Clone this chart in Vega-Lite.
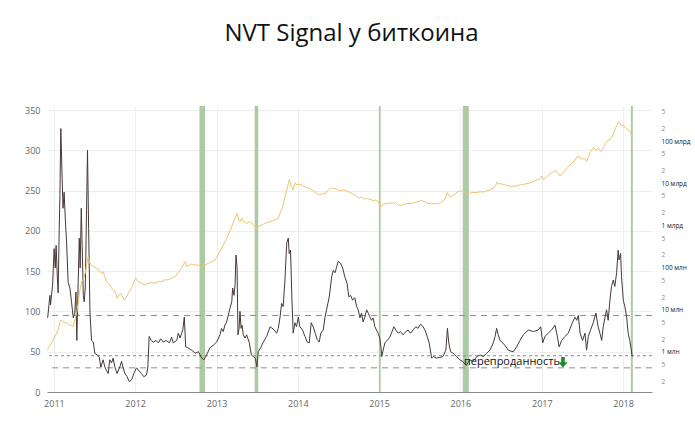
{
  "$schema": "https://vega.github.io/schema/vega-lite/v6.json",
  "width": 605,
  "height": 286,
  "autosize": {"type": "none"},
  "padding": {"left": 47, "top": 106, "right": 43, "bottom": 38},
  "background": "white",
  "title": {"text": "NVT Signal у биткоина", "fontSize": 24, "font": "Open Sans", "fontWeight": "normal", "color": "#111111", "anchor": "middle", "offset": 41, "baseline": "alphabetic", "dx": 2},
  "config": {"view": {"stroke": null}, "font": "Open Sans"},
  "datasets": {
    "bands": [
      {"start": "2012-10-16", "end": "2012-11-10"},
      {"start": "2013-06-21", "end": "2013-07-07"},
      {"start": "2014-12-31", "end": "2015-01-08"},
      {"start": "2016-01-12", "end": "2016-02-08"},
      {"start": "2018-02-05", "end": "2018-02-14"}
    ],
    "grayLevels": [{"level": 95}, {"level": 30}],
    "greenLevels": [{"level": 45}],
    "notes": [{"date": "2016-01-17", "nvt": 37, "label": "перепроданность"}],
    "arrows": [{"date": "2017-04-06", "nvt": 37}],
    "nvt": [
      {"date": "2010-12-04", "nvt": 92}, {"date": "2010-12-14", "nvt": 120}, {"date": "2010-12-17", "nvt": 108}, {"date": "2010-12-26", "nvt": 133},
      {"date": "2011-01-02", "nvt": 178}, {"date": "2011-01-07", "nvt": 154}, {"date": "2011-01-11", "nvt": 182}, {"date": "2011-01-16", "nvt": 145},
      {"date": "2011-01-20", "nvt": 123}, {"date": "2011-01-25", "nvt": 203}, {"date": "2011-01-28", "nvt": 244}, {"date": "2011-02-01", "nvt": 327},
      {"date": "2011-02-07", "nvt": 265}, {"date": "2011-02-11", "nvt": 228}, {"date": "2011-02-16", "nvt": 248}, {"date": "2011-02-22", "nvt": 210},
      {"date": "2011-02-27", "nvt": 186}, {"date": "2011-03-06", "nvt": 136}, {"date": "2011-03-14", "nvt": 129}, {"date": "2011-03-21", "nvt": 112},
      {"date": "2011-03-29", "nvt": 92}, {"date": "2011-04-05", "nvt": 99}, {"date": "2011-04-10", "nvt": 124}, {"date": "2011-04-14", "nvt": 64},
      {"date": "2011-04-20", "nvt": 136}, {"date": "2011-04-25", "nvt": 191}, {"date": "2011-04-29", "nvt": 154}, {"date": "2011-05-04", "nvt": 228},
      {"date": "2011-05-08", "nvt": 182}, {"date": "2011-05-13", "nvt": 120}, {"date": "2011-05-17", "nvt": 112}, {"date": "2011-05-22", "nvt": 129},
      {"date": "2011-06-01", "nvt": 300}, {"date": "2011-06-06", "nvt": 203}, {"date": "2011-06-12", "nvt": 99}, {"date": "2011-06-19", "nvt": 64},
      {"date": "2011-06-27", "nvt": 62}, {"date": "2011-07-04", "nvt": 48}, {"date": "2011-07-14", "nvt": 46}, {"date": "2011-07-23", "nvt": 44},
      {"date": "2011-07-31", "nvt": 31}, {"date": "2011-08-10", "nvt": 40}, {"date": "2011-08-18", "nvt": 31}, {"date": "2011-08-25", "nvt": 27},
      {"date": "2011-09-02", "nvt": 23}, {"date": "2011-09-09", "nvt": 40}, {"date": "2011-09-17", "nvt": 36}, {"date": "2011-09-24", "nvt": 42},
      {"date": "2011-10-02", "nvt": 31}, {"date": "2011-10-12", "nvt": 23}, {"date": "2011-10-24", "nvt": 31}, {"date": "2011-11-01", "nvt": 38},
      {"date": "2011-11-08", "nvt": 30}, {"date": "2011-11-16", "nvt": 23}, {"date": "2011-11-26", "nvt": 19}, {"date": "2011-12-05", "nvt": 13},
      {"date": "2011-12-16", "nvt": 15}, {"date": "2011-12-26", "nvt": 23}, {"date": "2012-01-07", "nvt": 30}, {"date": "2012-01-19", "nvt": 26},
      {"date": "2012-01-29", "nvt": 23}, {"date": "2012-02-09", "nvt": 19}, {"date": "2012-02-21", "nvt": 21}, {"date": "2012-02-27", "nvt": 31},
      {"date": "2012-03-04", "nvt": 69}, {"date": "2012-03-13", "nvt": 64}, {"date": "2012-03-23", "nvt": 62}, {"date": "2012-04-04", "nvt": 64},
      {"date": "2012-04-14", "nvt": 61}, {"date": "2012-04-25", "nvt": 66}, {"date": "2012-05-07", "nvt": 62}, {"date": "2012-05-19", "nvt": 64},
      {"date": "2012-06-03", "nvt": 61}, {"date": "2012-06-13", "nvt": 68}, {"date": "2012-06-20", "nvt": 61}, {"date": "2012-07-06", "nvt": 64},
      {"date": "2012-07-13", "nvt": 73}, {"date": "2012-07-21", "nvt": 67}, {"date": "2012-08-02", "nvt": 77}, {"date": "2012-08-09", "nvt": 93},
      {"date": "2012-08-15", "nvt": 56}, {"date": "2012-08-24", "nvt": 55}, {"date": "2012-09-04", "nvt": 53}, {"date": "2012-09-16", "nvt": 51},
      {"date": "2012-09-26", "nvt": 48}, {"date": "2012-10-11", "nvt": 50}, {"date": "2012-10-26", "nvt": 42}, {"date": "2012-11-05", "nvt": 40},
      {"date": "2012-11-17", "nvt": 46}, {"date": "2012-12-02", "nvt": 55}, {"date": "2012-12-17", "nvt": 58}, {"date": "2013-01-01", "nvt": 62},
      {"date": "2013-01-16", "nvt": 71}, {"date": "2013-01-23", "nvt": 79}, {"date": "2013-01-31", "nvt": 75}, {"date": "2013-02-07", "nvt": 83},
      {"date": "2013-02-15", "nvt": 87}, {"date": "2013-02-22", "nvt": 95}, {"date": "2013-03-02", "nvt": 104}, {"date": "2013-03-10", "nvt": 112},
      {"date": "2013-03-14", "nvt": 129}, {"date": "2013-03-20", "nvt": 120}, {"date": "2013-03-25", "nvt": 133}, {"date": "2013-03-29", "nvt": 170},
      {"date": "2013-04-03", "nvt": 154}, {"date": "2013-04-07", "nvt": 71}, {"date": "2013-04-12", "nvt": 79}, {"date": "2013-04-16", "nvt": 100},
      {"date": "2013-04-21", "nvt": 79}, {"date": "2013-04-25", "nvt": 83}, {"date": "2013-05-01", "nvt": 71}, {"date": "2013-05-09", "nvt": 67},
      {"date": "2013-05-16", "nvt": 71}, {"date": "2013-05-28", "nvt": 61}, {"date": "2013-06-06", "nvt": 46}, {"date": "2013-06-15", "nvt": 44},
      {"date": "2013-06-24", "nvt": 42}, {"date": "2013-07-01", "nvt": 31}, {"date": "2013-07-07", "nvt": 50}, {"date": "2013-07-18", "nvt": 55},
      {"date": "2013-07-30", "nvt": 62}, {"date": "2013-08-14", "nvt": 69}, {"date": "2013-08-29", "nvt": 81}, {"date": "2013-09-13", "nvt": 78},
      {"date": "2013-09-28", "nvt": 73}, {"date": "2013-10-05", "nvt": 79}, {"date": "2013-10-13", "nvt": 93}, {"date": "2013-10-20", "nvt": 110},
      {"date": "2013-10-27", "nvt": 106}, {"date": "2013-11-04", "nvt": 139}, {"date": "2013-11-12", "nvt": 185}, {"date": "2013-11-19", "nvt": 191},
      {"date": "2013-11-23", "nvt": 172}, {"date": "2013-11-29", "nvt": 176}, {"date": "2013-12-05", "nvt": 118}, {"date": "2013-12-11", "nvt": 73},
      {"date": "2013-12-19", "nvt": 86}, {"date": "2013-12-26", "nvt": 81}, {"date": "2014-01-03", "nvt": 93}, {"date": "2014-01-10", "nvt": 81},
      {"date": "2014-01-22", "nvt": 77}, {"date": "2014-02-02", "nvt": 69}, {"date": "2014-02-12", "nvt": 62}, {"date": "2014-02-21", "nvt": 61},
      {"date": "2014-03-02", "nvt": 86}, {"date": "2014-03-11", "nvt": 81}, {"date": "2014-03-20", "nvt": 73}, {"date": "2014-03-29", "nvt": 65},
      {"date": "2014-04-07", "nvt": 62}, {"date": "2014-04-14", "nvt": 73}, {"date": "2014-04-25", "nvt": 77}, {"date": "2014-05-03", "nvt": 93},
      {"date": "2014-05-10", "nvt": 102}, {"date": "2014-05-22", "nvt": 118}, {"date": "2014-06-02", "nvt": 143}, {"date": "2014-06-09", "nvt": 151},
      {"date": "2014-06-17", "nvt": 148}, {"date": "2014-06-24", "nvt": 155}, {"date": "2014-07-01", "nvt": 162}, {"date": "2014-07-12", "nvt": 160},
      {"date": "2014-07-21", "nvt": 154}, {"date": "2014-07-31", "nvt": 143}, {"date": "2014-08-10", "nvt": 135}, {"date": "2014-08-18", "nvt": 118},
      {"date": "2014-08-26", "nvt": 120}, {"date": "2014-09-04", "nvt": 114}, {"date": "2014-09-14", "nvt": 117}, {"date": "2014-09-22", "nvt": 106},
      {"date": "2014-09-29", "nvt": 102}, {"date": "2014-10-07", "nvt": 92}, {"date": "2014-10-14", "nvt": 98}, {"date": "2014-10-21", "nvt": 87},
      {"date": "2014-10-29", "nvt": 93}, {"date": "2014-11-06", "nvt": 102}, {"date": "2014-11-13", "nvt": 98}, {"date": "2014-11-21", "nvt": 93},
      {"date": "2014-11-28", "nvt": 89}, {"date": "2014-12-05", "nvt": 92}, {"date": "2014-12-13", "nvt": 81}, {"date": "2014-12-20", "nvt": 77},
      {"date": "2014-12-28", "nvt": 73}, {"date": "2015-01-04", "nvt": 67}, {"date": "2015-01-09", "nvt": 56}, {"date": "2015-01-13", "nvt": 44},
      {"date": "2015-01-19", "nvt": 52}, {"date": "2015-01-27", "nvt": 61}, {"date": "2015-02-03", "nvt": 63}, {"date": "2015-02-18", "nvt": 68},
      {"date": "2015-03-03", "nvt": 77}, {"date": "2015-03-08", "nvt": 81}, {"date": "2015-03-17", "nvt": 77}, {"date": "2015-03-28", "nvt": 73},
      {"date": "2015-04-07", "nvt": 75}, {"date": "2015-04-19", "nvt": 71}, {"date": "2015-05-01", "nvt": 75}, {"date": "2015-05-11", "nvt": 77},
      {"date": "2015-05-22", "nvt": 73}, {"date": "2015-06-03", "nvt": 77}, {"date": "2015-06-15", "nvt": 81}, {"date": "2015-06-25", "nvt": 79},
      {"date": "2015-07-06", "nvt": 84}, {"date": "2015-07-15", "nvt": 82}, {"date": "2015-07-26", "nvt": 77}, {"date": "2015-08-05", "nvt": 69},
      {"date": "2015-08-14", "nvt": 61}, {"date": "2015-08-25", "nvt": 42}, {"date": "2015-09-01", "nvt": 44}, {"date": "2015-09-16", "nvt": 42},
      {"date": "2015-10-01", "nvt": 43}, {"date": "2015-10-15", "nvt": 44}, {"date": "2015-10-28", "nvt": 52}, {"date": "2015-11-04", "nvt": 79},
      {"date": "2015-11-10", "nvt": 61}, {"date": "2015-11-18", "nvt": 50}, {"date": "2015-11-30", "nvt": 48}, {"date": "2015-12-15", "nvt": 44},
      {"date": "2015-12-30", "nvt": 40}, {"date": "2016-01-11", "nvt": 38}, {"date": "2016-01-21", "nvt": 35}, {"date": "2016-01-28", "nvt": 33},
      {"date": "2016-02-12", "nvt": 40}, {"date": "2016-02-27", "nvt": 38}, {"date": "2016-03-15", "nvt": 44}, {"date": "2016-03-30", "nvt": 46},
      {"date": "2016-04-13", "nvt": 44}, {"date": "2016-04-28", "nvt": 48}, {"date": "2016-05-13", "nvt": 52}, {"date": "2016-05-28", "nvt": 61},
      {"date": "2016-06-05", "nvt": 69}, {"date": "2016-06-12", "nvt": 79}, {"date": "2016-06-19", "nvt": 71}, {"date": "2016-06-27", "nvt": 64},
      {"date": "2016-07-09", "nvt": 61}, {"date": "2016-07-19", "nvt": 58}, {"date": "2016-08-03", "nvt": 52}, {"date": "2016-08-11", "nvt": 51},
      {"date": "2016-08-26", "nvt": 50}, {"date": "2016-09-10", "nvt": 56}, {"date": "2016-09-25", "nvt": 64}, {"date": "2016-10-10", "nvt": 71},
      {"date": "2016-11-01", "nvt": 77}, {"date": "2016-11-24", "nvt": 75}, {"date": "2016-12-16", "nvt": 77}, {"date": "2016-12-27", "nvt": 81},
      {"date": "2017-01-05", "nvt": 61}, {"date": "2017-01-15", "nvt": 69}, {"date": "2017-01-30", "nvt": 73}, {"date": "2017-02-14", "nvt": 77},
      {"date": "2017-03-01", "nvt": 83}, {"date": "2017-03-09", "nvt": 73}, {"date": "2017-03-20", "nvt": 56}, {"date": "2017-03-31", "nvt": 64},
      {"date": "2017-04-15", "nvt": 69}, {"date": "2017-04-30", "nvt": 73}, {"date": "2017-05-11", "nvt": 81}, {"date": "2017-05-20", "nvt": 87},
      {"date": "2017-05-30", "nvt": 93}, {"date": "2017-06-07", "nvt": 89}, {"date": "2017-06-14", "nvt": 95}, {"date": "2017-06-22", "nvt": 73},
      {"date": "2017-07-03", "nvt": 64}, {"date": "2017-07-14", "nvt": 73}, {"date": "2017-07-21", "nvt": 52}, {"date": "2017-07-29", "nvt": 69},
      {"date": "2017-08-08", "nvt": 77}, {"date": "2017-08-20", "nvt": 86}, {"date": "2017-09-01", "nvt": 98}, {"date": "2017-09-11", "nvt": 81},
      {"date": "2017-09-19", "nvt": 73}, {"date": "2017-09-27", "nvt": 64}, {"date": "2017-10-04", "nvt": 81}, {"date": "2017-10-12", "nvt": 93},
      {"date": "2017-10-19", "nvt": 102}, {"date": "2017-10-26", "nvt": 89}, {"date": "2017-11-03", "nvt": 114}, {"date": "2017-11-10", "nvt": 131},
      {"date": "2017-11-18", "nvt": 139}, {"date": "2017-11-25", "nvt": 131}, {"date": "2017-12-03", "nvt": 148}, {"date": "2017-12-10", "nvt": 176},
      {"date": "2017-12-14", "nvt": 164}, {"date": "2017-12-21", "nvt": 172}, {"date": "2017-12-25", "nvt": 143}, {"date": "2018-01-02", "nvt": 114},
      {"date": "2018-01-09", "nvt": 106}, {"date": "2018-01-17", "nvt": 93}, {"date": "2018-01-24", "nvt": 73}, {"date": "2018-01-31", "nvt": 64},
      {"date": "2018-02-05", "nvt": 56}, {"date": "2018-02-11", "nvt": 44}
    ],
    "cap": [
      {"date": "2010-12-02", "cap": 1.12e6}, {"date": "2010-12-29", "cap": 1.91e6}, {"date": "2011-01-20", "cap": 3.31e6}, {"date": "2011-01-31", "cap": 5.75e6},
      {"date": "2011-02-11", "cap": 5.25e6}, {"date": "2011-02-27", "cap": 4.90e6}, {"date": "2011-03-14", "cap": 4.37e6}, {"date": "2011-03-29", "cap": 3.98e6},
      {"date": "2011-04-05", "cap": 5.75e6}, {"date": "2011-04-13", "cap": 8.32e6}, {"date": "2011-04-20", "cap": 1.41e7}, {"date": "2011-04-28", "cap": 2.95e7},
      {"date": "2011-05-06", "cap": 4.68e7}, {"date": "2011-05-13", "cap": 5.13e7}, {"date": "2011-05-21", "cap": 7.24e7}, {"date": "2011-05-28", "cap": 1.15e8},
      {"date": "2011-06-04", "cap": 1.82e8}, {"date": "2011-06-12", "cap": 1.26e8}, {"date": "2011-06-19", "cap": 1.15e8}, {"date": "2011-06-30", "cap": 1.05e8},
      {"date": "2011-07-11", "cap": 9.55e7}, {"date": "2011-07-23", "cap": 8.71e7}, {"date": "2011-08-03", "cap": 7.24e7}, {"date": "2011-08-10", "cap": 7.94e7},
      {"date": "2011-08-18", "cap": 6.03e7}, {"date": "2011-08-25", "cap": 4.68e7}, {"date": "2011-09-02", "cap": 4.27e7}, {"date": "2011-09-09", "cap": 3.89e7},
      {"date": "2011-09-17", "cap": 3.24e7}, {"date": "2011-09-27", "cap": 2.95e7}, {"date": "2011-10-06", "cap": 2.45e7}, {"date": "2011-10-12", "cap": 1.86e7},
      {"date": "2011-10-20", "cap": 2.24e7}, {"date": "2011-10-27", "cap": 2.45e7}, {"date": "2011-11-05", "cap": 2.04e7}, {"date": "2011-11-14", "cap": 1.70e7},
      {"date": "2011-11-23", "cap": 2.04e7}, {"date": "2011-12-05", "cap": 2.69e7}, {"date": "2011-12-16", "cap": 3.24e7}, {"date": "2011-12-26", "cap": 4.68e7},
      {"date": "2012-01-04", "cap": 5.62e7}, {"date": "2012-01-14", "cap": 4.68e7}, {"date": "2012-01-29", "cap": 4.27e7}, {"date": "2012-02-13", "cap": 3.89e7},
      {"date": "2012-02-28", "cap": 4.27e7}, {"date": "2012-03-15", "cap": 4.37e7}, {"date": "2012-03-30", "cap": 4.27e7}, {"date": "2012-04-14", "cap": 4.68e7},
      {"date": "2012-04-29", "cap": 4.68e7}, {"date": "2012-05-14", "cap": 5.13e7}, {"date": "2012-05-29", "cap": 5.13e7}, {"date": "2012-06-13", "cap": 5.62e7},
      {"date": "2012-06-28", "cap": 6.03e7}, {"date": "2012-07-13", "cap": 7.94e7}, {"date": "2012-07-28", "cap": 9.55e7}, {"date": "2012-08-07", "cap": 1.26e8},
      {"date": "2012-08-13", "cap": 1.38e8}, {"date": "2012-08-19", "cap": 1.05e8}, {"date": "2012-08-31", "cap": 1.15e8}, {"date": "2012-09-11", "cap": 1.20e8},
      {"date": "2012-09-26", "cap": 1.15e8}, {"date": "2012-10-11", "cap": 1.15e8}, {"date": "2012-10-26", "cap": 1.05e8}, {"date": "2012-11-10", "cap": 1.15e8},
      {"date": "2012-11-25", "cap": 1.26e8}, {"date": "2012-12-10", "cap": 1.38e8}, {"date": "2012-12-25", "cap": 1.51e8}, {"date": "2013-01-08", "cap": 2.00e8},
      {"date": "2013-01-23", "cap": 2.88e8}, {"date": "2013-02-07", "cap": 4.07e8}, {"date": "2013-02-22", "cap": 5.89e8}, {"date": "2013-03-10", "cap": 9.33e8},
      {"date": "2013-03-25", "cap": 1.48e9}, {"date": "2013-04-04", "cap": 1.95e9}, {"date": "2013-04-10", "cap": 1.35e9}, {"date": "2013-04-16", "cap": 1.23e9},
      {"date": "2013-04-24", "cap": 1.48e9}, {"date": "2013-05-01", "cap": 1.23e9}, {"date": "2013-05-16", "cap": 1.12e9}, {"date": "2013-05-31", "cap": 1.23e9},
      {"date": "2013-06-15", "cap": 1.02e9}, {"date": "2013-07-01", "cap": 7.76e8}, {"date": "2013-07-07", "cap": 9.33e8}, {"date": "2013-07-23", "cap": 1.02e9},
      {"date": "2013-08-06", "cap": 1.12e9}, {"date": "2013-08-29", "cap": 1.23e9}, {"date": "2013-09-20", "cap": 1.35e9}, {"date": "2013-10-05", "cap": 1.48e9},
      {"date": "2013-10-13", "cap": 1.95e9}, {"date": "2013-10-25", "cap": 2.75e9}, {"date": "2013-11-04", "cap": 4.79e9}, {"date": "2013-11-14", "cap": 7.59e9},
      {"date": "2013-11-23", "cap": 1.20e10}, {"date": "2013-11-29", "cap": 1.02e10}, {"date": "2013-12-03", "cap": 8.32e9}, {"date": "2013-12-11", "cap": 6.92e9},
      {"date": "2013-12-19", "cap": 1.00e10}, {"date": "2013-12-29", "cap": 9.12e9}, {"date": "2014-01-10", "cap": 9.55e9}, {"date": "2014-01-25", "cap": 8.51e9},
      {"date": "2014-02-09", "cap": 7.94e9}, {"date": "2014-02-24", "cap": 7.59e9}, {"date": "2014-03-11", "cap": 6.61e9}, {"date": "2014-03-26", "cap": 5.75e9},
      {"date": "2014-04-10", "cap": 5.25e9}, {"date": "2014-04-22", "cap": 5.75e9}, {"date": "2014-05-03", "cap": 5.50e9}, {"date": "2014-05-17", "cap": 6.92e9},
      {"date": "2014-05-28", "cap": 7.59e9}, {"date": "2014-06-09", "cap": 7.59e9}, {"date": "2014-06-24", "cap": 7.24e9}, {"date": "2014-07-09", "cap": 6.61e9},
      {"date": "2014-07-24", "cap": 6.92e9}, {"date": "2014-08-08", "cap": 6.61e9}, {"date": "2014-08-23", "cap": 6.03e9}, {"date": "2014-09-07", "cap": 5.50e9},
      {"date": "2014-09-22", "cap": 5.01e9}, {"date": "2014-10-03", "cap": 4.37e9}, {"date": "2014-10-14", "cap": 4.79e9}, {"date": "2014-10-26", "cap": 4.17e9},
      {"date": "2014-11-06", "cap": 4.37e9}, {"date": "2014-11-21", "cap": 4.17e9}, {"date": "2014-12-05", "cap": 3.89e9}, {"date": "2014-12-17", "cap": 3.98e9},
      {"date": "2014-12-28", "cap": 3.63e9}, {"date": "2015-01-09", "cap": 2.75e9}, {"date": "2015-01-22", "cap": 3.31e9}, {"date": "2015-02-06", "cap": 3.24e9},
      {"date": "2015-02-18", "cap": 3.47e9}, {"date": "2015-03-03", "cap": 3.31e9}, {"date": "2015-03-13", "cap": 3.63e9}, {"date": "2015-03-28", "cap": 3.02e9},
      {"date": "2015-04-12", "cap": 3.02e9}, {"date": "2015-04-27", "cap": 3.24e9}, {"date": "2015-05-11", "cap": 3.31e9}, {"date": "2015-05-27", "cap": 3.31e9},
      {"date": "2015-06-11", "cap": 3.47e9}, {"date": "2015-06-25", "cap": 3.63e9}, {"date": "2015-07-11", "cap": 3.89e9}, {"date": "2015-07-26", "cap": 3.63e9},
      {"date": "2015-08-09", "cap": 3.31e9}, {"date": "2015-08-25", "cap": 3.24e9}, {"date": "2015-09-09", "cap": 3.31e9}, {"date": "2015-09-24", "cap": 3.31e9},
      {"date": "2015-10-09", "cap": 3.63e9}, {"date": "2015-10-24", "cap": 4.17e9}, {"date": "2015-11-03", "cap": 6.03e9}, {"date": "2015-11-10", "cap": 5.01e9},
      {"date": "2015-11-22", "cap": 4.79e9}, {"date": "2015-12-07", "cap": 5.50e9}, {"date": "2015-12-22", "cap": 6.31e9}, {"date": "2016-01-06", "cap": 6.61e9},
      {"date": "2016-01-21", "cap": 6.03e9}, {"date": "2016-01-31", "cap": 5.50e9}, {"date": "2016-02-12", "cap": 5.75e9}, {"date": "2016-02-27", "cap": 6.03e9},
      {"date": "2016-03-15", "cap": 6.03e9}, {"date": "2016-03-30", "cap": 6.31e9}, {"date": "2016-04-13", "cap": 6.17e9}, {"date": "2016-04-28", "cap": 6.61e9},
      {"date": "2016-05-13", "cap": 6.92e9}, {"date": "2016-05-28", "cap": 7.59e9}, {"date": "2016-06-09", "cap": 9.12e9}, {"date": "2016-06-15", "cap": 1.07e10},
      {"date": "2016-06-21", "cap": 9.55e9}, {"date": "2016-06-30", "cap": 9.77e9}, {"date": "2016-07-19", "cap": 9.12e9}, {"date": "2016-08-11", "cap": 8.51e9},
      {"date": "2016-09-03", "cap": 8.51e9}, {"date": "2016-09-25", "cap": 9.12e9}, {"date": "2016-10-17", "cap": 9.55e9}, {"date": "2016-11-09", "cap": 1.02e10},
      {"date": "2016-12-01", "cap": 1.15e10}, {"date": "2016-12-20", "cap": 1.23e10}, {"date": "2017-01-01", "cap": 1.48e10}, {"date": "2017-01-07", "cap": 1.23e10},
      {"date": "2017-01-22", "cap": 1.41e10}, {"date": "2017-02-06", "cap": 1.66e10}, {"date": "2017-02-21", "cap": 1.86e10}, {"date": "2017-03-06", "cap": 2.00e10},
      {"date": "2017-03-16", "cap": 1.70e10}, {"date": "2017-03-24", "cap": 1.48e10}, {"date": "2017-03-31", "cap": 1.66e10}, {"date": "2017-04-15", "cap": 2.00e10},
      {"date": "2017-04-30", "cap": 2.45e10}, {"date": "2017-05-15", "cap": 2.95e10}, {"date": "2017-05-30", "cap": 3.55e10}, {"date": "2017-06-09", "cap": 4.37e10},
      {"date": "2017-06-22", "cap": 4.07e10}, {"date": "2017-07-03", "cap": 3.72e10}, {"date": "2017-07-14", "cap": 3.89e10}, {"date": "2017-07-21", "cap": 3.24e10},
      {"date": "2017-07-29", "cap": 4.27e10}, {"date": "2017-08-08", "cap": 5.62e10}, {"date": "2017-08-20", "cap": 7.08e10}, {"date": "2017-09-01", "cap": 6.17e10},
      {"date": "2017-09-11", "cap": 6.76e10}, {"date": "2017-09-22", "cap": 5.62e10}, {"date": "2017-10-04", "cap": 6.76e10}, {"date": "2017-10-16", "cap": 8.91e10},
      {"date": "2017-10-26", "cap": 1.05e11}, {"date": "2017-11-06", "cap": 1.10e11}, {"date": "2017-11-15", "cap": 1.32e11}, {"date": "2017-11-25", "cap": 1.82e11},
      {"date": "2017-12-03", "cap": 2.29e11}, {"date": "2017-12-12", "cap": 2.88e11}, {"date": "2017-12-17", "cap": 2.63e11}, {"date": "2017-12-25", "cap": 2.29e11},
      {"date": "2018-01-02", "cap": 2.40e11}, {"date": "2018-01-14", "cap": 2.00e11}, {"date": "2018-01-24", "cap": 1.82e11}, {"date": "2018-02-04", "cap": 1.66e11},
      {"date": "2018-02-10", "cap": 1.15e11}
    ]
  },
  "layer": [
    {
      "layer": [
        {
          "data": {"name": "bands"},
          "mark": {"type": "rect", "color": "#a3c49a", "opacity": 0.9},
          "encoding": {
            "x": {"field": "start", "type": "temporal", "title": null, "scale": {"type": "utc", "domain": [{"year": 2010, "month": 12, "date": 1, "utc": true}, {"year": 2018, "month": 5, "date": 11, "utc": true}]}},
            "x2": {"field": "end"}
          }
        },
        {
          "data": {"name": "grayLevels"},
          "mark": {"type": "rule", "color": "#8c8c8c", "strokeWidth": 1, "strokeDash": [6, 5]},
          "encoding": {"y": {"field": "level", "type": "quantitative", "title": null}}
        },
        {
          "data": {"name": "greenLevels"},
          "mark": {"type": "rule", "color": "#5aa38a", "strokeWidth": 1, "strokeDash": [3, 3]},
          "encoding": {"y": {"field": "level", "type": "quantitative", "title": null}}
        },
        {
          "data": {"name": "nvt"},
          "mark": {"type": "line", "color": "#473838", "strokeWidth": 1},
          "encoding": {
            "x": {
              "field": "date", "type": "temporal", "title": null,
              "scale": {"type": "utc", "domain": [{"year": 2010, "month": 12, "date": 1, "utc": true}, {"year": 2018, "month": 5, "date": 11, "utc": true}]},
              "axis": {
                "values": [{"year": 2011, "month": 1, "date": 1, "utc": true}, {"year": 2012, "month": 1, "date": 1, "utc": true}, {"year": 2013, "month": 1, "date": 1, "utc": true}, {"year": 2014, "month": 1, "date": 1, "utc": true}, {"year": 2015, "month": 1, "date": 1, "utc": true}, {"year": 2016, "month": 1, "date": 1, "utc": true}, {"year": 2017, "month": 1, "date": 1, "utc": true}, {"year": 2018, "month": 1, "date": 1, "utc": true}],
                "format": "%Y", "grid": true, "gridColor": "#eeeeee", "ticks": false, "domain": true, "domainColor": "#8a8a8a", "domainWidth": 1.2,
                "labelFontSize": 9, "labelColor": "#666666", "labelPadding": 7, "labelFont": "Open Sans"
              }
            },
            "y": {
              "field": "nvt", "type": "quantitative", "title": null,
              "scale": {"domain": [0, 355], "nice": false, "zero": true},
              "axis": {"values": [0, 50, 100, 150, 200, 250, 300, 350], "grid": true, "gridColor": "#eeeeee", "ticks": false, "domain": false, "labelFontSize": 9, "labelColor": "#666666", "labelPadding": 7, "labelFont": "Open Sans"}
            }
          }
        },
        {
          "data": {"name": "notes"},
          "mark": {"type": "text", "align": "left", "baseline": "middle", "fontSize": 11, "font": "Open Sans", "color": "#111111"},
          "encoding": {
            "x": {"field": "date", "type": "temporal", "title": null},
            "y": {"field": "nvt", "type": "quantitative", "title": null},
            "text": {"field": "label"}
          }
        },
        {
          "data": {"name": "arrows"},
          "mark": {"type": "point", "filled": true, "opacity": 1, "color": "#1f8a2c", "size": 110, "shape": "M-0.35,-1L0.35,-1L0.35,0L0.9,0L0,1L-0.9,0L-0.35,0Z"},
          "encoding": {
            "x": {"field": "date", "type": "temporal", "title": null},
            "y": {"field": "nvt", "type": "quantitative", "title": null}
          }
        }
      ]
    },
    {
      "data": {"name": "cap"},
      "mark": {"type": "line", "color": "#f0c36c", "strokeWidth": 1},
      "encoding": {
        "x": {"field": "date", "type": "temporal", "title": null},
        "y": {
          "field": "cap", "type": "quantitative", "title": null,
          "scale": {"type": "log", "domain": [112700, 676000000000], "nice": false},
          "axis": {
            "orient": "right",
            "values": [200000, 500000, 1000000, 2000000, 5000000, 10000000, 20000000, 50000000, 100000000, 200000000, 500000000, 1000000000, 2000000000, 5000000000, 10000000000, 20000000000, 50000000000, 100000000000, 200000000000, 500000000000],
            "labelExpr": "datum.value == 1e6 ? '1 млн' : datum.value == 1e7 ? '10 млн' : datum.value == 1e8 ? '100 млн' : datum.value == 1e9 ? '1 млрд' : datum.value == 1e10 ? '10 млрд' : datum.value == 1e11 ? '100 млрд' : substring(toString(datum.value), 0, 1)",
            "grid": false, "ticks": false, "domain": false, "labelFontSize": 6.5, "labelPadding": 9, "labelFont": "Open Sans",
            "labelColor": {"condition": {"test": "datum.value == 1e6 || datum.value == 1e7 || datum.value == 1e8 || datum.value == 1e9 || datum.value == 1e10 || datum.value == 1e11", "value": "#222222"}, "value": "#8a8a8a"}
          }
        }
      }
    }
  ],
  "resolve": {"scale": {"y": "independent"}}
}
